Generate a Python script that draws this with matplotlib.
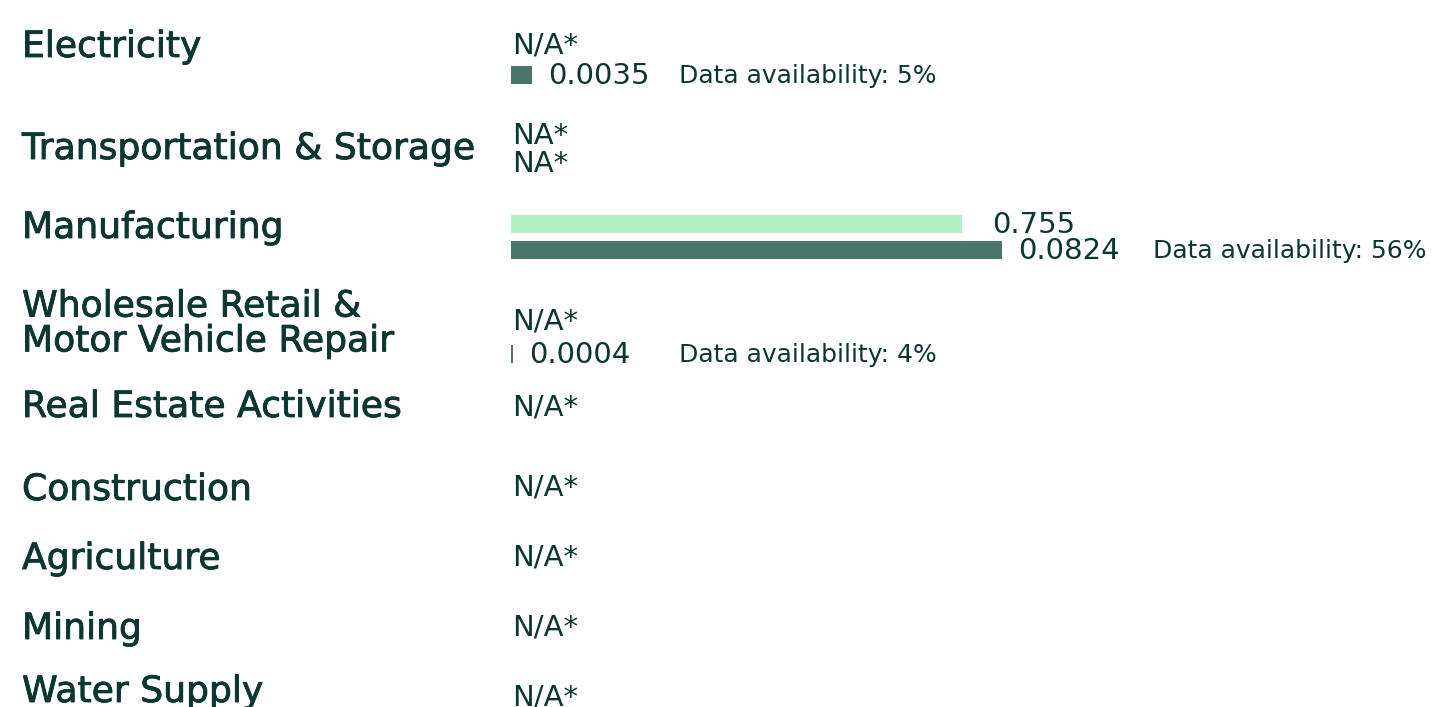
import matplotlib
matplotlib.use("Agg")
import matplotlib.pyplot as plt
import matplotlib.patheffects as pe

plt.rcParams['font.family'] = ['DejaVu Sans']

# data
categories = ["Electricity", "Transportation & Storage", "Manufacturing",
              "Wholesale Retail &\nMotor Vehicle Repair", "Real Estate Activities",
              "Construction", "Agriculture", "Mining", "Water Supply"]
light_vals = [None, None, 0.755, None, None, None, None, None, None]
light_na = ["N/A*", "NA*", None, "N/A*", "N/A*", "N/A*", "N/A*", "N/A*", "N/A*"]
dark_vals = [0.0035, None, 0.0824, 0.0004, None, None, None, None, None]
dark_na = [None, "NA*", None, None, None, None, None, None, None]
dark_labels = ["0.0035", None, "0.0824", "0.0004", None, None, None, None, None]
light_labels = [None, None, "0.755", None, None, None, None, None, None]
availability = ["5%", None, "56%", "4%", None, None, None, None, None]

# layout (pixel rows)
W, H = 1456, 707
label_y = [47, 149, 228, 324, 407, 490, 559, 629, 692]
row1_y = [45, 136, 225, 321, 408, 488, 557, 627, 698]
row2_y = [76, 164, 251, 355, None, None, None, None, None]
da_gap = [30, 0, 33, 48, 0, 0, 0, 0, 0]
x0 = 511
bar_h = 18

TXT = '#0b3631'
LIGHT = '#b3f0c0'
DARK = '#48766a'
medium = [pe.withStroke(linewidth=0.6, foreground=TXT)]

fig = plt.figure(figsize=(W / 100, H / 100), dpi=100)
ax = fig.add_axes([0, 0, 1, 1])
ax.set_xlim(0, W)
ax.set_ylim(H, 0)
ax.axis('off')

# bar axes: each series has its own scale
ax_d = fig.add_axes([x0 / W, 0, (W - x0) / W, 1])
ax_d.set_ylim(H, 0)
ax_d.set_xlim(0, 0.0824 * (W - x0) / 491)
ax_d.axis('off')
ax_l = fig.add_axes([x0 / W, 0, (W - x0) / W, 1])
ax_l.set_ylim(H, 0)
ax_l.set_xlim(0, 0.755 * (W - x0) / 451)
ax_l.axis('off')

for i, cat in enumerate(categories):
    ax.text(22, label_y[i], cat, fontsize=26, color=TXT, va='center', ha='left',
            linespacing=1.03, path_effects=medium)

    # first row: light series
    if light_vals[i] is not None:
        ax_l.barh(row1_y[i] - 1, light_vals[i], height=bar_h, color=LIGHT)
        ax_l.annotate(light_labels[i], xy=(light_vals[i], row1_y[i]),
                      xytext=(30, 0), textcoords='offset pixels',
                      fontsize=21, color=TXT, va='center')
    elif light_na[i]:
        ax.text(x0 + 1, row1_y[i], light_na[i], fontsize=21, color=TXT, va='center')

    # second row: dark series
    if dark_vals[i] is not None:
        ax_d.barh(row2_y[i] - 1, dark_vals[i], height=bar_h, color=DARK)
        t = ax_d.annotate(dark_labels[i], xy=(dark_vals[i], row2_y[i]),
                          xytext=(16, 0), textcoords='offset pixels',
                          fontsize=21, color=TXT, va='center')
        if availability[i]:
            ax_d.annotate("Data availability: " + availability[i], xy=(1, 0.5),
                          xycoords=t, xytext=(da_gap[i], 0), textcoords='offset pixels',
                          fontsize=18, color=TXT, va='center')
    elif dark_na[i]:
        ax.text(x0 + 1, row2_y[i], dark_na[i], fontsize=21, color=TXT, va='center')

fig.savefig("out.png", dpi=100)
